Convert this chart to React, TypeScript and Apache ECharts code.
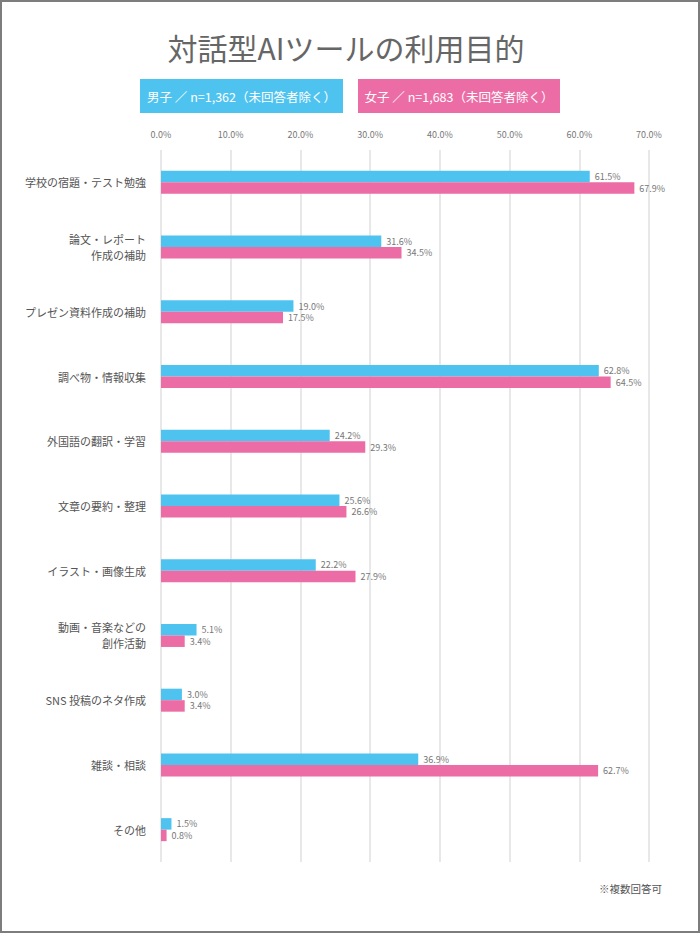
import React, { useEffect, useRef } from "react";
import * as echarts from "echarts";

const categories = [
  "学校の宿題・テスト勉強",
  "論文・レポート\n作成の補助",
  "プレゼン資料作成の補助",
  "調べ物・情報収集",
  "外国語の翻訳・学習",
  "文章の要約・整理",
  "イラスト・画像生成",
  "動画・音楽などの\n創作活動",
  "SNS 投稿のネタ作成",
  "雑談・相談",
  "その他",
];
const boys = [61.5, 31.6, 19.0, 62.8, 24.2, 25.6, 22.2, 5.1, 3.0, 36.9, 1.5];
const girls = [67.9, 34.5, 17.5, 64.5, 29.3, 26.6, 27.9, 3.4, 3.4, 62.7, 0.8];
const boysLabel = "男子 ／ n=1,362（未回答者除く）";
const girlsLabel = "女子 ／ n=1,683（未回答者除く）";
const title = "対話型AIツールの利用目的";
const note = "※複数回答可";

const BLUE = "#4FC3F0";
const PINK = "#EC6DA5";
const FONT = "'Noto Sans CJK JP', 'Noto Sans', sans-serif";

export default function App() {
  const ref = useRef<HTMLDivElement>(null);
  useEffect(() => {
    if (!ref.current) return;
    const chart = echarts.init(ref.current, undefined, { renderer: "svg" });
    const labelStyle = {
      show: true,
      position: "right" as const,
      distance: 5,
      fontSize: 9,
      color: "#777",
      fontFamily: FONT,
      formatter: (p: any) => Number(p.value).toFixed(1) + "%",
    };
    chart.setOption({
      animation: false,
      backgroundColor: "#fff",
      textStyle: { fontFamily: FONT },
      grid: { left: 161, right: 51, top: 150, bottom: 71, containLabel: false },
      xAxis: {
        type: "value",
        position: "top",
        min: 0,
        max: 70,
        interval: 10,
        axisLine: { show: false },
        axisTick: { show: false },
        axisLabel: {
          margin: 11,
          fontSize: 9,
          color: "#777",
          fontFamily: FONT,
          formatter: (v: number) => v.toFixed(1) + "%",
        },
        splitLine: { show: true, lineStyle: { color: "#e0e0e0", width: 1.5 } },
      },
      yAxis: {
        type: "category",
        data: categories,
        inverse: true,
        axisLine: { show: false },
        axisTick: { show: false },
        axisLabel: {
          margin: 15,
          fontSize: 11,
          lineHeight: 16,
          color: "#555",
          fontFamily: FONT,
        },
      },
      series: [
        {
          type: "bar",
          name: "男子",
          data: boys,
          barWidth: 11.5,
          barGap: "0%",
          itemStyle: { color: BLUE },
          label: labelStyle,
        },
        {
          type: "bar",
          name: "女子",
          data: girls,
          barWidth: 11.5,
          barGap: "0%",
          itemStyle: { color: PINK },
          label: labelStyle,
        },
      ],
      graphic: [
        {
          type: "rect",
          shape: { x: 1, y: 1, width: 698, height: 931 },
          style: { fill: "none", stroke: "#7d7d7d", lineWidth: 2 },
          silent: true,
        },
        {
          type: "text",
          x: 346,
          y: 47,
          style: {
            text: title,
            fontSize: 30,
            fill: "#666",
            fontFamily: FONT,
            align: "center",
            verticalAlign: "middle",
          },
        },
        {
          type: "rect",
          shape: { x: 140, y: 79, width: 203, height: 34 },
          style: { fill: BLUE },
        },
        {
          type: "text",
          x: 241.5,
          y: 96,
          style: {
            text: boysLabel,
            fontSize: 12.5,
            fill: "#fff",
            fontFamily: FONT,
            align: "center",
            verticalAlign: "middle",
          },
        },
        {
          type: "rect",
          shape: { x: 358, y: 79, width: 202, height: 34 },
          style: { fill: PINK },
        },
        {
          type: "text",
          x: 459,
          y: 96,
          style: {
            text: girlsLabel,
            fontSize: 12.5,
            fill: "#fff",
            fontFamily: FONT,
            align: "center",
            verticalAlign: "middle",
          },
        },
        {
          type: "text",
          x: 662,
          y: 888,
          style: {
            text: note,
            fontSize: 10.5,
            fill: "#555",
            fontFamily: FONT,
            align: "right",
            verticalAlign: "middle",
          },
        },
      ],
    });
    return () => chart.dispose();
  }, []);
  return (
    <div
      ref={ref}
      style={{ position: "fixed", left: 0, top: 0, width: 700, height: 933 }}
    />
  );
}
